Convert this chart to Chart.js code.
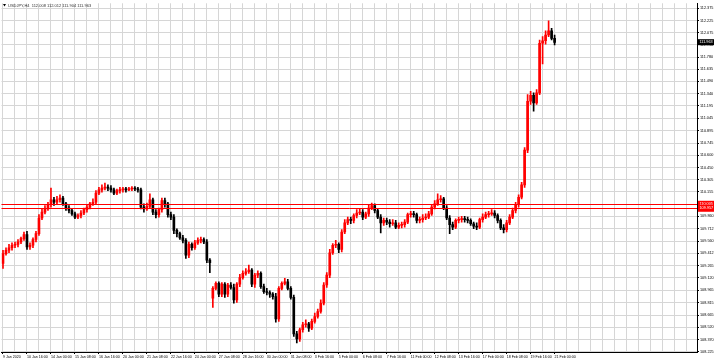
<!DOCTYPE html>
<html>
<head>
<meta charset="utf-8">
<script src="https://cdn.jsdelivr.net/npm/chart.js@4.4.1/dist/chart.umd.min.js"></script>
<style>
  html, body { margin: 0; padding: 0; background: #fff; }
</style>
</head>
<body>
<canvas id="chart" width="716" height="361"></canvas>
<script>
const symbolTitle = 'USDJPY,H4  112.008 112.012 111.904 111.963'

// one label every 8 bars (H4)
const timeLabels = [
  '9 Jan 2020', '10 Jan 16:00', '14 Jan 00:00', '15 Jan 08:00', '16 Jan 16:00', '20 Jan 00:00',
  '21 Jan 08:00', '22 Jan 16:00', '24 Jan 00:00', '27 Jan 08:00', '28 Jan 16:00', '30 Jan 00:00',
  '31 Jan 08:00', '3 Feb 16:00', '5 Feb 00:00', '6 Feb 08:00', '7 Feb 16:00', '11 Feb 00:00',
  '12 Feb 08:00', '13 Feb 16:00', '17 Feb 00:00', '18 Feb 08:00', '19 Feb 16:00', '21 Feb 00:00'
]

const priceTicks = [
  112.375, 112.225, 112.075, 111.930, 111.780, 111.635, 111.490, 111.340, 111.195, 111.045,
  110.895, 110.745, 110.600, 110.450, 110.305, 110.155, 110.005, 109.860, 109.712, 109.560,
  109.412, 109.265, 109.120, 108.965, 108.815, 108.665, 108.520, 108.370, 108.225
]

const levels = [110.005, 109.957]
const lastPrice = 111.963

const open = [
  109.29, 109.41, 109.45, 109.48, 109.51, 109.52, 109.55, 109.59, 109.64, 109.49,
  109.51, 109.58, 109.65, 109.84, 109.91, 109.95, 110.00, 110.06, 110.03, 110.06,
  110.08, 110.01, 109.96, 109.93, 109.89, 109.85, 109.87, 109.90, 109.94, 109.97,
  110.01, 110.03, 110.14, 110.18, 110.20, 110.21, 110.20, 110.18, 110.14, 110.17,
  110.18, 110.19, 110.18, 110.19, 110.20, 110.19, 110.18, 109.97, 109.95, 109.98,
  110.06, 109.91, 109.88, 109.94, 110.05, 110.01, 109.88, 109.85, 109.69, 109.65,
  109.60, 109.57, 109.39, 109.52, 109.48, 109.54, 109.57, 109.58, 109.55, 109.33,
  108.87, 108.99, 109.05, 108.92, 109.04, 108.92, 109.03, 109.00, 108.85, 109.04,
  109.12, 109.17, 109.19, 109.21, 109.04, 109.15, 109.17, 109.01, 108.95, 108.94,
  108.92, 108.89, 108.62, 108.99, 109.05, 109.07, 108.99, 108.88, 108.44, 108.38,
  108.49, 108.55, 108.56, 108.51, 108.59, 108.65, 108.71, 108.81, 109.03, 109.15,
  109.42, 109.51, 109.52, 109.46, 109.67, 109.78, 109.82, 109.81, 109.87, 109.90,
  109.91, 109.85, 109.89, 109.96, 109.99, 109.93, 109.85, 109.78, 109.81, 109.79,
  109.77, 109.78, 109.73, 109.75, 109.76, 109.79, 109.88, 109.89, 109.88, 109.81,
  109.82, 109.84, 109.85, 109.89, 109.97, 110.01, 110.06, 110.07, 109.96, 109.84,
  109.76, 109.73, 109.81, 109.82, 109.83, 109.82, 109.81, 109.77, 109.74, 109.73,
  109.82, 109.85, 109.88, 109.89, 109.90, 109.87, 109.81, 109.72, 109.70, 109.78,
  109.85, 109.93, 110.00, 110.09, 110.24, 110.66, 111.25, 111.32, 111.23, 111.35,
  111.95, 111.98, 112.05, 112.10, 112.01
]

const high = [
  109.45, 109.48, 109.52, 109.54, 109.55, 109.58, 109.61, 109.67, 109.68, 109.54,
  109.60, 109.68, 109.88, 109.95, 109.99, 110.03, 110.20, 110.09, 110.10, 110.12,
  110.10, 110.03, 109.99, 109.95, 109.91, 109.89, 109.93, 109.96, 110.00, 110.03,
  110.07, 110.17, 110.21, 110.24, 110.26, 110.24, 110.23, 110.20, 110.19, 110.21,
  110.21, 110.21, 110.21, 110.22, 110.22, 110.21, 110.20, 110.01, 110.02, 110.13,
  110.08, 109.94, 109.96, 110.08, 110.08, 110.03, 109.91, 109.88, 109.71, 109.67,
  109.63, 109.59, 109.55, 109.54, 109.57, 109.60, 109.61, 109.60, 109.58, 109.35,
  109.01, 109.07, 109.07, 109.06, 109.06, 109.05, 109.06, 109.04, 109.06, 109.16,
  109.20, 109.23, 109.27, 109.23, 109.17, 109.20, 109.19, 109.04, 108.99, 108.96,
  108.94, 108.93, 109.01, 109.07, 109.11, 109.10, 109.01, 108.91, 108.47, 108.51,
  108.58, 108.61, 108.58, 108.62, 108.69, 108.74, 108.85, 109.06, 109.18, 109.46,
  109.53, 109.57, 109.54, 109.70, 109.82, 109.85, 109.85, 109.89, 109.94, 109.95,
  109.94, 109.91, 110.00, 110.02, 110.01, 109.95, 109.88, 109.84, 109.84, 109.82,
  109.82, 109.81, 109.78, 109.79, 109.82, 109.90, 109.92, 109.92, 109.90, 109.85,
  109.88, 109.89, 109.92, 110.00, 110.05, 110.13, 110.11, 110.09, 109.99, 109.87,
  109.79, 109.83, 109.85, 109.86, 109.86, 109.85, 109.83, 109.79, 109.78, 109.84,
  109.89, 109.91, 109.92, 109.94, 109.93, 109.89, 109.83, 109.76, 109.81, 109.88,
  109.96, 110.03, 110.12, 110.27, 110.69, 111.33, 111.37, 111.35, 111.39, 111.99,
  112.03, 112.10, 112.22, 112.13, 112.05
]

const low = [
  109.23, 109.39, 109.42, 109.45, 109.48, 109.49, 109.53, 109.57, 109.46, 109.46,
  109.48, 109.55, 109.63, 109.82, 109.89, 109.93, 109.97, 109.99, 110.01, 110.03,
  109.99, 109.93, 109.90, 109.87, 109.83, 109.83, 109.84, 109.88, 109.91, 109.95,
  109.99, 110.01, 110.12, 110.15, 110.18, 110.17, 110.15, 110.12, 110.12, 110.14,
  110.15, 110.15, 110.17, 110.17, 110.17, 110.15, 109.95, 109.91, 109.93, 109.96,
  109.88, 109.84, 109.85, 109.91, 109.97, 109.85, 109.82, 109.65, 109.61, 109.58,
  109.54, 109.35, 109.36, 109.45, 109.46, 109.52, 109.54, 109.53, 109.30, 109.18,
  108.76, 108.97, 108.89, 108.89, 108.88, 108.89, 108.98, 108.81, 108.82, 109.01,
  109.10, 109.15, 109.17, 109.01, 109.00, 109.12, 108.99, 108.93, 108.91, 108.88,
  108.86, 108.58, 108.59, 108.97, 109.03, 108.97, 108.86, 108.41, 108.33, 108.35,
  108.46, 108.52, 108.47, 108.49, 108.57, 108.63, 108.69, 108.79, 109.00, 109.12,
  109.40, 109.48, 109.42, 109.43, 109.65, 109.76, 109.77, 109.78, 109.84, 109.88,
  109.82, 109.83, 109.86, 109.94, 109.90, 109.83, 109.66, 109.75, 109.76, 109.73,
  109.75, 109.71, 109.71, 109.72, 109.73, 109.77, 109.85, 109.85, 109.78, 109.78,
  109.79, 109.82, 109.83, 109.87, 109.95, 109.99, 110.03, 109.94, 109.82, 109.65,
  109.70, 109.71, 109.78, 109.79, 109.79, 109.78, 109.75, 109.71, 109.70, 109.71,
  109.79, 109.83, 109.85, 109.87, 109.84, 109.78, 109.70, 109.66, 109.67, 109.76,
  109.83, 109.90, 109.97, 110.07, 110.21, 110.63, 111.21, 111.13, 111.21, 111.33,
  111.70, 111.94, 112.03, 111.99, 111.93
]

const close = [
  109.41, 109.45, 109.48, 109.51, 109.52, 109.55, 109.59, 109.64, 109.49, 109.51,
  109.58, 109.65, 109.84, 109.91, 109.95, 110.00, 110.06, 110.03, 110.06, 110.08,
  110.01, 109.96, 109.93, 109.89, 109.85, 109.87, 109.90, 109.94, 109.97, 110.01,
  110.03, 110.14, 110.18, 110.20, 110.21, 110.20, 110.18, 110.14, 110.17, 110.18,
  110.19, 110.18, 110.19, 110.20, 110.19, 110.18, 109.97, 109.95, 109.98, 110.06,
  109.91, 109.88, 109.94, 110.05, 110.01, 109.88, 109.85, 109.69, 109.65, 109.60,
  109.57, 109.39, 109.52, 109.48, 109.54, 109.57, 109.58, 109.55, 109.33, 109.30,
  108.99, 109.05, 108.92, 109.04, 108.92, 109.03, 109.00, 108.85, 109.04, 109.12,
  109.17, 109.19, 109.21, 109.04, 109.15, 109.17, 109.01, 108.95, 108.94, 108.92,
  108.89, 108.62, 108.99, 109.05, 109.07, 108.99, 108.88, 108.44, 108.38, 108.49,
  108.55, 108.56, 108.51, 108.59, 108.65, 108.71, 108.81, 109.03, 109.15, 109.42,
  109.51, 109.52, 109.46, 109.67, 109.78, 109.82, 109.81, 109.87, 109.90, 109.91,
  109.85, 109.89, 109.96, 109.99, 109.93, 109.85, 109.78, 109.81, 109.79, 109.77,
  109.78, 109.73, 109.75, 109.76, 109.79, 109.88, 109.89, 109.88, 109.81, 109.82,
  109.84, 109.85, 109.89, 109.97, 110.01, 110.06, 110.07, 109.96, 109.84, 109.76,
  109.73, 109.81, 109.82, 109.83, 109.82, 109.81, 109.77, 109.74, 109.73, 109.82,
  109.85, 109.88, 109.89, 109.90, 109.87, 109.81, 109.72, 109.70, 109.78, 109.85,
  109.93, 110.00, 110.09, 110.24, 110.66, 111.25, 111.32, 111.23, 111.35, 111.95,
  111.98, 112.05, 112.10, 112.01, 111.96
]

// bar slots on the time axis, including the empty shift area on the right
const slotCount = 232
const slots = Array.from({length: slotCount}, (_, i) => i)

const UP = '#ff0000'
const DOWN = '#000000'
const GRID = '#d6d6d6'
const FONT = '"Liberation Sans", Arial, sans-serif'

const candleColors = close.map((c, i) => c > open[i] ? UP : DOWN)

// price lines, axis price boxes and the title
const overlay = {
  id: 'overlay',
  afterDatasetsDraw(chart) {
    const {ctx, chartArea, scales} = chart
    const y = scales.y
    ctx.save()
    ctx.strokeStyle = '#ff0000'
    ctx.lineWidth = 1
    levels.forEach(v => {
      const py = Math.round(y.getPixelForValue(v)) + 0.5
      ctx.beginPath()
      ctx.moveTo(chartArea.left, py)
      ctx.lineTo(chartArea.right, py)
      ctx.stroke()
    })
    ctx.restore()
  },
  afterDraw(chart) {
    const {ctx, chartArea, scales} = chart
    const y = scales.y
    ctx.save()
    ctx.font = '3.8px ' + FONT
    ctx.textBaseline = 'middle'
    ctx.textAlign = 'left'

    levels.forEach(v => {
      const py = y.getPixelForValue(v)
      ctx.fillStyle = '#ff0000'
      ctx.fillRect(chartArea.right + 1, py - 3.5, 16, 7)
      ctx.fillStyle = '#ffffff'
      ctx.fillText(v.toFixed(3), chartArea.right + 2.5, py)
    })

    const lp = y.getPixelForValue(lastPrice)
    ctx.fillStyle = '#000000'
    ctx.fillRect(chartArea.right + 1, lp - 3, 16, 6)
    ctx.fillStyle = '#ffffff'
    ctx.fillText(lastPrice.toFixed(3), chartArea.right + 2.5, lp)

    // title
    ctx.fillStyle = '#000000'
    ctx.beginPath()
    ctx.moveTo(3, 4)
    ctx.lineTo(6, 4)
    ctx.lineTo(4.5, 6.5)
    ctx.closePath()
    ctx.fill()
    ctx.font = '4px ' + FONT
    ctx.fillStyle = '#333333'
    ctx.fillText(symbolTitle, 8, 5.5)
    ctx.restore()
  }
}

new Chart(document.getElementById('chart'), {
  type: 'bar',
  data: {
    labels: slots,
    datasets: [
      {
        label: 'wick',
        data: low.map((l, i) => [l, high[i]]),
        backgroundColor: candleColors,
        barThickness: 1,
        grouped: false,
        order: 2
      },
      {
        label: 'body',
        data: open.map((o, i) => [o, close[i]]),
        backgroundColor: candleColors,
        barThickness: 2,
        minBarLength: 1,
        grouped: false,
        order: 1
      }
    ]
  },
  options: {
    responsive: false,
    animation: false,
    layout: {padding: {left: 1.5, top: 1, right: 0, bottom: 0}},
    plugins: {
      legend: {display: false},
      tooltip: {enabled: false}
    },
    scales: {
      x: {
        type: 'category',
        grid: {
          offset: false,
          color: ctx => ctx.index % 4 === 0 ? GRID : 'rgba(0,0,0,0)',
          tickColor: ctx => ctx.index % 8 === 0 && ctx.index / 8 < timeLabels.length ? '#000' : 'rgba(0,0,0,0)',
          tickLength: 2
        },
        border: {color: '#000', width: 1},
        ticks: {
          autoSkip: false,
          maxRotation: 0,
          minRotation: 0,
          align: 'start',
          padding: 0.5,
          color: '#000',
          font: {size: 3.6, family: FONT},
          callback: (v, i) => (i % 8 === 0 && timeLabels[i / 8]) ? timeLabels[i / 8] : ''
        },
        afterFit: s => { s.height = 9 }
      },
      y: {
        type: 'linear',
        position: 'right',
        min: 108.221,
        max: 112.433,
        grid: {color: GRID, tickColor: '#000', tickLength: 2},
        border: {color: '#000', width: 1},
        ticks: {
          padding: 1,
          color: '#000',
          font: {size: 3.8, family: FONT},
          callback: v => Number(v).toFixed(3)
        },
        afterBuildTicks: s => { s.ticks = priceTicks.map(v => ({value: v})) },
        afterFit: s => { s.width = 19 }
      }
    }
  },
  plugins: [overlay]
})
</script>
</body>
</html>
